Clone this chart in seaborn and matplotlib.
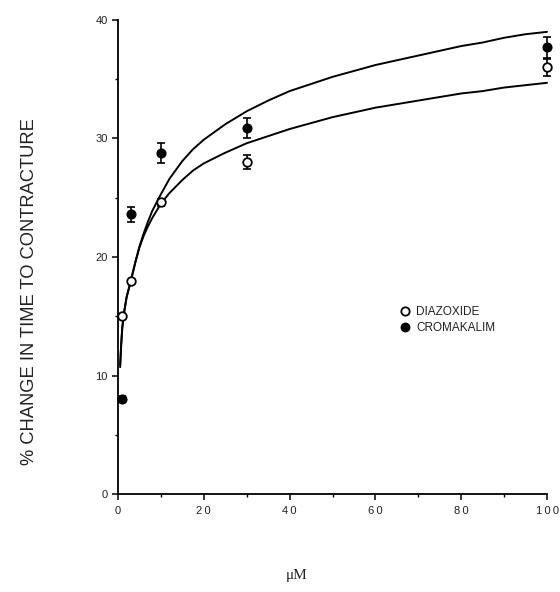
import matplotlib
matplotlib.use("Agg")
import matplotlib.pyplot as plt
from matplotlib.lines import Line2D
import seaborn as sns
import pandas as pd

# ---- data ----
conc = [1, 3, 10, 30, 100]
diaz_mean = [15.0, 18.0, 24.6, 28.0, 36.0]
diaz_err = [0.0, 0.0, 0.3, 0.6, 0.75]
crom_mean = [8.0, 23.6, 28.8, 30.9, 37.7]
crom_err = [0.25, 0.63, 0.85, 0.87, 0.9]

curve_x = [0.5, 0.75, 1, 1.5, 2, 3, 4, 5, 6, 7, 8, 10, 12, 15, 17.5, 20, 25, 30,
           35, 40, 45, 50, 55, 60, 65, 70, 75, 80, 85, 90, 95, 100]
curve_upper = [10.7, 12.6, 14.0, 15.5, 16.6, 18.0, 19.5, 20.9, 22.0, 23.0, 23.9, 25.3,
               26.6, 28.1, 29.1, 29.9, 31.2, 32.3, 33.2, 34.0, 34.6, 35.2, 35.7, 36.2,
               36.6, 37.0, 37.4, 37.8, 38.1, 38.5, 38.8, 39.0]
curve_lower = [10.9, 12.7, 14.1, 15.5, 16.6, 18.0, 19.5, 20.8, 21.8, 22.6, 23.3, 24.5,
               25.4, 26.5, 27.3, 27.9, 28.8, 29.6, 30.2, 30.8, 31.3, 31.8, 32.2, 32.6,
               32.9, 33.2, 33.5, 33.8, 34.0, 34.3, 34.5, 34.7]

x_ticks = [0, 20, 40, 60, 80, 100]
y_ticks = [0, 10, 20, 30, 40]

sns.set_style("ticks")
plt.rcParams['font.family'] = ['Liberation Sans', 'DejaVu Sans']

fig = plt.figure(figsize=(5.6, 5.92), dpi=100)
ax = fig.add_axes([118/560, 1-494/592, (547-118)/560, (494-20)/592])

cur = pd.DataFrame({"x": curve_x + curve_x,
                    "y": curve_upper + curve_lower,
                    "fit": ["upper"]*len(curve_x) + ["lower"]*len(curve_x)})
sns.lineplot(data=cur, x="x", y="y", units="fit", estimator=None, color="black",
             lw=1.4, ax=ax, sort=False, legend=False, clip_on=False,
             solid_joinstyle="round")

ax.errorbar(conc, diaz_mean, yerr=diaz_err, fmt="none", ecolor="black",
            elinewidth=1.2, capsize=3, capthick=1.2, clip_on=False, zorder=3)
ax.errorbar(conc, crom_mean, yerr=crom_err, fmt="none", ecolor="black",
            elinewidth=1.2, capsize=3, capthick=1.2, clip_on=False, zorder=3)

pts = pd.DataFrame({"x": conc + conc, "y": crom_mean + diaz_mean,
                    "drug": ["CROMAKALIM"]*5 + ["DIAZOXIDE"]*5})
sns.scatterplot(data=pts[pts.drug == "CROMAKALIM"], x="x", y="y", color="black",
                edgecolor="black", s=38, linewidth=1.1, ax=ax, legend=False,
                clip_on=False, zorder=4)
sns.scatterplot(data=pts[pts.drug == "DIAZOXIDE"], x="x", y="y", color="white",
                edgecolor="black", s=38, linewidth=1.3, ax=ax, legend=False,
                clip_on=False, zorder=5)

ax.set_xlim(0, 100)
ax.set_ylim(0, 40)
ax.set_xticks(x_ticks)
ax.set_xticklabels(["\u2009".join(str(t)) for t in x_ticks])
ax.set_yticks(y_ticks)
ax.set_xticks([10, 30, 50, 70, 90], minor=True)
ax.set_yticks([5, 15, 25, 35], minor=True)
ax.tick_params(axis="both", which="major", direction="out", length=4, width=1.1,
               labelsize=8, color="black", labelcolor="#222222")
ax.tick_params(axis="x", which="major", pad=5)
ax.tick_params(axis="both", which="minor", direction="out", length=2.5, width=1.0,
               color="black")
for s in ["top", "right"]:
    ax.spines[s].set_visible(False)
for s in ["left", "bottom"]:
    ax.spines[s].set_linewidth(1.3)
    ax.spines[s].set_color("black")
ax.set_xlabel("")
ax.set_ylabel("")

fig.text(30/560, 1-292/592, "% CHANGE IN TIME TO CONTRACTURE", rotation=90,
         ha="center", va="center", fontsize=13.2, color="#222222")
fig.text(297/560, 1-576/592, "μM", ha="center", va="center", fontsize=11,
         family=["Liberation Serif", "DejaVu Serif"], color="#222222")

handles = [Line2D([], [], marker="o", ls="none", mfc="white", mec="black", mew=1.3, ms=6),
           Line2D([], [], marker="o", ls="none", mfc="black", mec="black", mew=1.1, ms=6)]
ax.legend(handles, ["DIAZOXIDE", "CROMAKALIM"], loc="center left",
          bbox_to_anchor=(388/560, 1-320/592), bbox_transform=fig.transFigure,
          frameon=False, handletextpad=0.5, handlelength=1.0, fontsize=8.5,
          labelspacing=0.3, labelcolor="#222222")

fig.savefig("out.png", dpi=100, facecolor="white")
